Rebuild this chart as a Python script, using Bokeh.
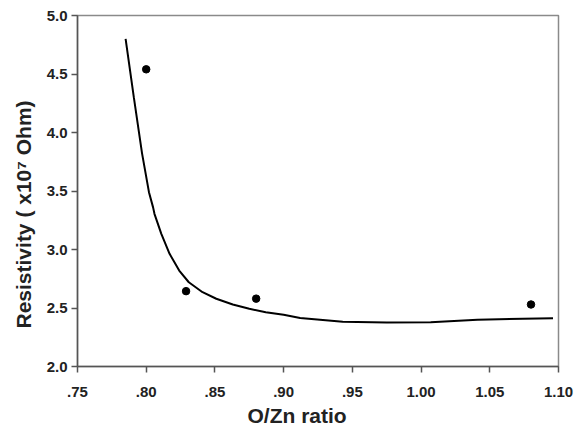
from bokeh.plotting import figure
from bokeh.models import FixedTicker, Range1d, Title
from bokeh.embed import file_html
from bokeh.resources import INLINE

# Measured data points
ratio = [0.80, 0.829, 0.88, 1.08]
resistivity = [4.54, 2.644, 2.58, 2.53]

# Fitted curve
fit_x = [0.785, 0.791, 0.797, 0.802, 0.805, 0.806, 0.811, 0.817, 0.824, 0.831,
         0.841, 0.851, 0.863, 0.875, 0.887, 0.900, 0.912, 0.943, 0.975, 1.007,
         1.041, 1.096]
fit_y = [4.80, 4.30, 3.82, 3.49, 3.36, 3.305, 3.134, 2.963, 2.82, 2.72,
         2.635, 2.579, 2.53, 2.493, 2.464, 2.442, 2.415, 2.382, 2.376, 2.379,
         2.40, 2.413]

x_ticks = [0.75, 0.80, 0.85, 0.90, 0.95, 1.00, 1.05, 1.10]
x_labels = [".75", ".80", ".85", ".90", ".95", "1.00", "1.05", "1.10"]
y_ticks = [2.0, 2.5, 3.0, 3.5, 4.0, 4.5, 5.0]
y_labels = ["2.0", "2.5", "3.0", "3.5", "4.0", "4.5", "5.0"]

FONT = "Liberation Sans"

p = figure(width=575, height=431, output_backend="svg", toolbar_location=None,
           x_range=Range1d(0.75, 1.10), y_range=Range1d(2.0, 5.0),
           min_border_left=77, min_border_right=17, min_border_top=15,
           min_border_bottom=65)

p.background_fill_color = "white"
p.border_fill_color = "white"
p.outline_line_color = "#8a8a8a"
p.outline_line_width = 1.5
p.xgrid.visible = False
p.ygrid.visible = False

p.line(fit_x, fit_y, line_color="black", line_width=2)
p.scatter(ratio, resistivity, size=7.5, color="black")

for ax in (p.xaxis[0], p.yaxis[0]):
    ax.axis_line_color = "#555555"
    ax.axis_line_width = 1.5
    ax.major_tick_line_color = "#555555"
    ax.major_tick_line_width = 1.5
    ax.major_tick_out = 6
    ax.major_tick_in = 0
    ax.minor_tick_line_color = None
    ax.major_label_text_font = FONT
    ax.major_label_text_font_style = "bold"
    ax.major_label_text_font_size = "15px"
    ax.major_label_text_color = "#222222"

p.xaxis[0].ticker = FixedTicker(ticks=x_ticks)
p.xaxis[0].major_label_overrides = dict(zip(x_ticks, x_labels))
p.xaxis[0].major_label_standoff = 14
p.yaxis[0].ticker = FixedTicker(ticks=y_ticks)
p.yaxis[0].major_label_overrides = dict(zip(y_ticks, y_labels))
p.yaxis[0].major_label_standoff = 4

ytitle = Title(text="Resistivity ( x10\u2077 Ohm)", align="left", offset=38,
               text_font=FONT, text_font_style="bold", text_font_size="21px",
               text_color="#222222", standoff=17)
p.add_layout(ytitle, "left")

xtitle = Title(text="O/Zn ratio", align="left", offset=170, text_font=FONT,
               text_font_style="bold", text_font_size="21px",
               text_color="#222222", standoff=4)
p.add_layout(xtitle, "below")

open("out.html", "w").write(file_html(p, INLINE))
